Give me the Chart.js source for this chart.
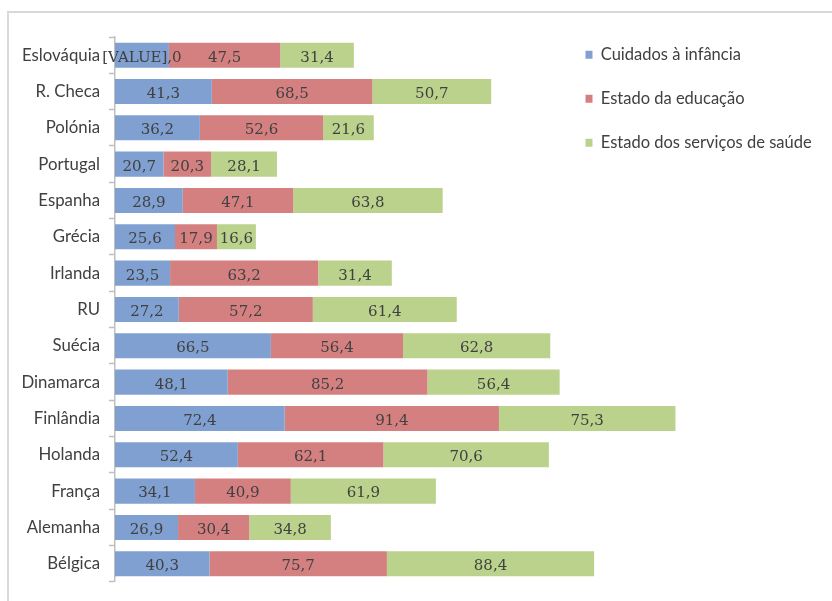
<!DOCTYPE html>
<html>
<head>
<meta charset="utf-8">
<script src="https://cdn.jsdelivr.net/npm/chart.js@4/dist/chart.umd.min.js"></script>
<style>
  html, body { margin: 0; padding: 0; background: #ffffff; }
  #wrap { position: relative; width: 832px; height: 601px; }
</style>
</head>
<body>
<div id="wrap"><canvas id="c"></canvas></div>
<script>
const categories = ["Eslováquia", "R. Checa", "Polónia", "Portugal", "Espanha", "Grécia", "Irlanda", "RU", "Suécia", "Dinamarca", "Finlândia", "Holanda", "França", "Alemanha", "Bélgica"];
const seriesNames = ["Cuidados à infância", "Estado da educação", "Estado dos serviços de saúde"];
const cuidados = [23.0, 41.3, 36.2, 20.7, 28.9, 25.6, 23.5, 27.2, 66.5, 48.1, 72.4, 52.4, 34.1, 26.9, 40.3];
const educacao = [47.5, 68.5, 52.6, 20.3, 47.1, 17.9, 63.2, 57.2, 56.4, 85.2, 91.4, 62.1, 40.9, 30.4, 75.7];
const saude = [31.4, 50.7, 21.6, 28.1, 63.8, 16.6, 31.4, 61.4, 62.8, 56.4, 75.3, 70.6, 61.9, 34.8, 88.4];
// label as printed in the source for the first series of Eslováquia
const labelOverrides = [{0: "[VALUE],0"}, {}, {}];

const colors = ["#7fa0d0", "#d58080", "#bbd28c"];
const textColor = "#404040";

function fmt(v) { return v.toFixed(1).replace(".", ","); }

const borderPlugin = {
  id: "frame",
  beforeDraw(chart) {
    const ctx = chart.ctx;
    ctx.save();
    ctx.fillStyle = "#ffffff";
    ctx.fillRect(0, 0, chart.width, chart.height);
    ctx.strokeStyle = "#d9d9d9";
    ctx.lineWidth = 2;
    ctx.strokeRect(8, 12, 1000, 1000);
    ctx.restore();
  }
};

const legendPlacer = {
  id: "legendPlacer",
  afterLayout(chart) {
    const lg = chart.legend;
    if (!lg) return;
    lg.left = 558; lg.right = 832;
    lg.top = 19; lg.bottom = 230;
    lg.width = lg.right - lg.left; lg.height = lg.bottom - lg.top;
  }
};

const valueLabels = {
  id: "valueLabels",
  afterDatasetsDraw(chart) {
    const ctx = chart.ctx;
    ctx.save();
    ctx.font = "15px 'DejaVu Serif'";
    ctx.fillStyle = textColor;
    ctx.textAlign = "center";
    ctx.textBaseline = "middle";
    chart.data.datasets.forEach((ds, di) => {
      const meta = chart.getDatasetMeta(di);
      meta.data.forEach((el, i) => {
        const txt = labelOverrides[di][i] !== undefined ? labelOverrides[di][i] : fmt(ds.data[i]);
        const cx = (el.x + el.base) / 2;
        ctx.fillText(txt, cx, el.y + 2.5);
      });
    });
    ctx.restore();
  }
};

new Chart(document.getElementById("c"), {
  type: "bar",
  data: {
    labels: categories,
    datasets: [
      { label: seriesNames[0], data: cuidados, backgroundColor: colors[0], borderWidth: 0 },
      { label: seriesNames[1], data: educacao, backgroundColor: colors[1], borderWidth: 0 },
      { label: seriesNames[2], data: saude, backgroundColor: colors[2], borderWidth: 0 }
    ]
  },
  options: {
    indexAxis: "y",
    responsive: true,
    maintainAspectRatio: false,
    animation: false,
    datasets: { bar: { barPercentage: 0.69, categoryPercentage: 1.0 } },
    layout: { padding: { top: 37, bottom: 18, left: 0, right: 131 } },
    scales: {
      x: { stacked: true, display: false, min: 0, max: 250 },
      y: {
        stacked: true,
        offset: true,
        afterFit(scale) { scale.width = 115; },
        grid: { offset: true, drawOnChartArea: false, drawTicks: true, tickLength: 6, tickColor: "#bfbfbf", tickWidth: 1.5 },
        border: { display: true, color: "#bfbfbf", width: 1.5 },
        ticks: { color: textColor, padding: 9, font: { family: "Lato", size: 16.8 } }
      }
    },
    plugins: {
      tooltip: { enabled: false },
      legend: {
        position: "chartArea",
        align: "start",
        labels: {
          boxWidth: 7, boxHeight: 8, padding: 27.5,
          color: textColor,
          font: { family: "Lato", size: 16.5 }
        }
      }
    }
  },
  plugins: [borderPlugin, legendPlacer, valueLabels]
});
</script>
</body>
</html>
